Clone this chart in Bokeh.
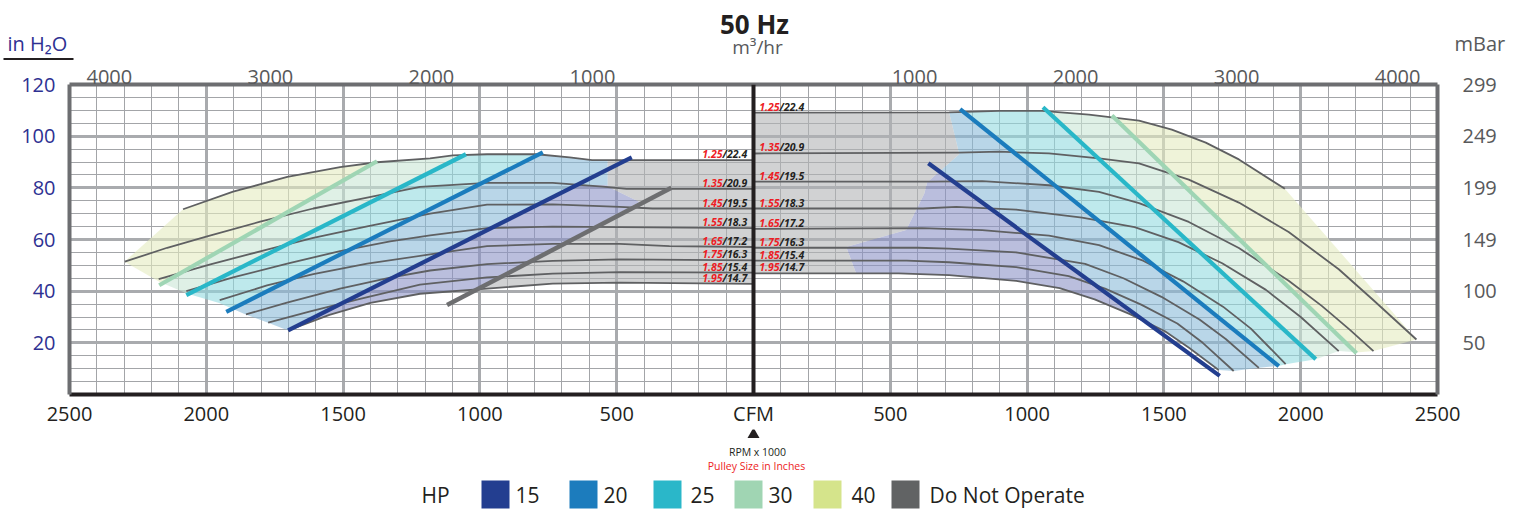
from bokeh.plotting import figure
from bokeh.models import Range1d, LinearAxis, FixedTicker, Span, ColumnDataSource
from bokeh.layouts import column
from bokeh.embed import file_html
from bokeh.resources import INLINE
from bokeh.core.properties import value

# ---------------------------------------------------------------- data
cfm_ticks = [-2500, -2000, -1500, -1000, -500, 0, 500, 1000, 1500, 2000, 2500]
cfm_minor_ticks = list(range(-2500, 2501, 100))
inh2o_ticks = [20, 40, 60, 80, 100, 120]
inh2o_grid_ticks = [0, 20, 40, 60, 80, 100, 120]
inh2o_minor_ticks = list(range(0, 121, 5))
m3h_ticks = [1000, 2000, 3000, 4000]
CFM_PER_M3H = 0.58858
MBAR_PER_INH2O = 2.4909

pulley_in = ["1.25", "1.35", "1.45", "1.55", "1.65", "1.75", "1.85", "1.95"]
rpm_k = ["22.4", "20.9", "19.5", "18.3", "17.2", "16.3", "15.4", "14.7"]

# left-hand fan curves (CFM to the left of centre, in H2O)
left_125_cfm = [0, 590, 672, 792, 974, 1099, 1182, 1376, 1511, 1704, 1902, 2085]
left_125_h = [90.7, 90.7, 91.8, 93.0, 93.0, 92.6, 91.4, 89.9, 88.0, 84.2, 78.5, 71.7]
left_135_cfm = [0, 464, 551, 734, 974, 1219, 1412, 1609, 1803, 1997, 2143, 2298]
left_135_h = [79.6, 79.6, 80.5, 81.9, 81.9, 80.4, 76.2, 72.0, 66.9, 61.2, 56.8, 51.4]
left_145_cfm = [0, 369, 489, 734, 974, 1182, 1412, 1609, 1778, 1985, 2174]
left_145_h = [72.0, 72.0, 72.6, 73.6, 73.5, 70.0, 65.1, 60.6, 56.1, 50.4, 44.7]
left_155_cfm = [0, 489, 734, 974, 1182, 1328, 1511, 1704, 1902, 2073]
left_155_h = [64.4, 64.8, 65.0, 64.4, 61.6, 59.3, 55.5, 50.7, 45.3, 40.0]
left_165_cfm = [0, 307, 489, 734, 974, 1182, 1412, 1609, 1778, 1951]
left_165_h = [57.1, 57.4, 58.3, 58.3, 57.4, 54.2, 50.7, 46.6, 42.2, 36.5]
left_175_cfm = [0, 489, 734, 974, 1182, 1328, 1511, 1705, 1855]
left_175_h = [51.9, 52.3, 51.7, 50.5, 48.0, 45.2, 41.0, 35.6, 31.0]
left_185_cfm = [0, 489, 734, 974, 1219, 1438, 1620, 1774]
left_185_h = [47.2, 47.4, 46.8, 45.3, 42.5, 37.0, 32.2, 27.8]
left_195_cfm = [0, 489, 734, 974, 1219, 1400, 1550, 1701]
left_195_h = [42.8, 43.3, 42.9, 41.0, 39.0, 35.5, 30.8, 24.8]

# right-hand fan curves
right_125_cfm = [0, 715, 898, 1055, 1226, 1409, 1529, 1653, 1774, 1942]
right_125_h = [109.1, 109.2, 109.8, 109.8, 108.3, 106.0, 102.5, 97.5, 91.0, 79.6]
right_135_cfm = [0, 752, 898, 1080, 1263, 1409, 1591, 1774, 1956, 2139, 2266, 2423]
right_135_h = [93.3, 93.6, 94.0, 93.3, 91.4, 89.5, 83.2, 74.3, 62.9, 48.5, 36.5, 21.3]
right_145_cfm = [0, 650, 836, 1080, 1263, 1409, 1591, 1774, 1956, 2077, 2180, 2266]
right_145_h = [82.4, 82.4, 82.6, 81.0, 78.4, 74.1, 66.8, 56.7, 44.0, 34.3, 25.0, 16.8]
right_155_cfm = [0, 620, 741, 960, 1201, 1393, 1553, 1713, 1873, 2000, 2139]
right_155_h = [72.0, 72.0, 72.6, 71.6, 68.5, 64.8, 59.0, 50.8, 40.5, 30.0, 16.8]
right_165_cfm = [0, 617, 836, 1080, 1263, 1424, 1570, 1716, 1818, 1945]
right_165_h = [64.1, 64.4, 63.6, 61.5, 57.8, 51.8, 43.8, 34.0, 25.5, 11.8]
right_175_cfm = [0, 600, 715, 960, 1212, 1352, 1491, 1630, 1726, 1847]
right_175_h = [56.8, 56.8, 56.5, 55.0, 50.6, 45.0, 37.8, 29.0, 21.5, 10.3]
right_185_cfm = [0, 560, 715, 960, 1152, 1285, 1417, 1549, 1642, 1755]
right_185_h = [51.8, 51.8, 51.2, 49.3, 45.8, 41.0, 34.8, 27.5, 20.0, 9.1]
right_195_cfm = [0, 530, 715, 960, 1119, 1247, 1376, 1504, 1593, 1700]
right_195_h = [46.9, 46.9, 46.2, 44.0, 41.2, 36.8, 31.1, 24.5, 18.0, 9.5]

# horsepower limit lines (start, end)
hp15_left_cfm, hp15_left_h = [1701, 445], [24.8, 91.8]
hp20_left_cfm, hp20_left_h = [1927, 770], [32.0, 93.7]
hp25_left_cfm, hp25_left_h = [2073, 1051], [38.5, 93.0]
hp30_left_cfm, hp30_left_h = [2172, 1376], [42.3, 90.3]
dno_left_cfm, dno_left_h = [1120, 300], [34.6, 80.0]
hp15_right_cfm, hp15_right_h = [639, 1704], [89.5, 7.2]
hp20_right_cfm, hp20_right_h = [755, 1920], [110.5, 11.0]
hp25_right_cfm, hp25_right_h = [1058, 2055], [111.2, 13.7]
hp30_right_cfm, hp30_right_h = [1310, 2204], [108.0, 16.0]

# operating envelopes (outline of the shaded areas)
left_zone_cfm = [2085, 1902, 1704, 1511, 1376, 1182, 1099, 974, 792, 672, 590, 533, 533, 416,
                 1013, 1219, 1400, 1550, 1701, 1774, 1854, 1953, 2073, 2175, 2299]
left_zone_h = [71.7, 78.5, 84.2, 88.0, 89.9, 91.4, 92.6, 93.0, 93.0, 91.8, 90.7, 90.7, 80.5, 74.5,
               40.7, 39.0, 35.5, 30.8, 24.8, 27.8, 30.9, 35.4, 39.2, 43.8, 51.4]
left_15hp_zone_top = 81.0
left_dno_cfm = [0, 533, 533, 416, 1013, 974, 734, 489, 0]
left_dno_h = [90.7, 90.7, 80.5, 74.5, 40.7, 41.0, 42.9, 43.3, 42.8]

right_zone_cfm = [715, 898, 1055, 1226, 1409, 1529, 1653, 1774, 1942, 2423, 2266, 2204, 2139, 2055,
                  1945, 1920, 1847, 1755, 1700, 1593, 1504, 1376, 1247, 1119, 960, 715, 530, 376,
                  339, 558, 624, 635, 752]
right_zone_h = [109.2, 109.8, 109.8, 108.3, 106.0, 102.5, 97.5, 91.0, 79.6, 21.3, 16.8, 16.3, 16.8, 13.6,
                11.7, 11.0, 10.4, 9.1, 9.5, 18.0, 24.5, 31.1, 36.8, 41.2, 44.0, 46.2, 46.9, 46.6,
                57.1, 63.7, 77.7, 82.2, 93.0]
right_dno_cfm = [0, 715, 752, 635, 624, 558, 339, 376, 0]
right_dno_h = [109.1, 109.2, 93.0, 82.2, 77.7, 63.7, 57.1, 46.6, 46.9]

legend_title = "HP"
legend_labels = ["15", "20", "25", "30", "40", "Do Not Operate"]
legend_colors = ["#233e90", "#1c7cbd", "#2ab7c9", "#a0d5b3", "#d5e48b", "#616364"]

# ---------------------------------------------------------------- styles / layout
FONT = "Open Sans"
CURVE_COLOR = "#5f6062"
HP_COLORS = {15: "#233e8f", 20: "#1b7cbd", 25: "#29b7c8", 30: "#9fd5b4"}
ZONE_ALPHA = 0.6
ZONE = {"y": "#e4ebc0", "g": "#cae6d5", "c": "#93dadf", "b": "#8abbd9", "l": "#8c93c6", "d": "#b2b4b6"}

W = 1527
TOP_H = 60                 # page rows 0..60 : titles
MAIN_TOP, MAIN_BOT = 60, 429
BOT_H = 510 - MAIN_BOT     # page rows 429..510 : notes + legend
FR_L, FR_R, FR_T, FR_B = 69, 1437, 84, 399  # frame edges in page pixels
X0, X1, Y0, Y1 = -2500, 2500, 0, 120
LEG_SQ_LEFT = [481, 569, 653, 734, 813, 891]     # legend swatch left edges (px)
LEG_TXT_LEFT = [515, 603, 690, 768, 851, 929]    # legend label left edges (px)
LEG_Y, LEG_SQ = 494, 28


def img_x(px):
    return X0 + (px - FR_L) * (X1 - X0) / (FR_R - FR_L)


def top_y(py):             # page row -> y of the top strip
    return TOP_H - py


def bot_y(py):             # page row -> y of the bottom strip (inverted range)
    return py - MAIN_BOT


def set_no_align(fig):
    try:
        fig.frame_align = False
    except Exception:
        pass


# ---------------------------------------------------------------- geometry helpers
def clip_half(poly, a, b, keep):
    def side(p):
        return (b[0] - a[0]) * (p[1] - a[1]) - (b[1] - a[1]) * (p[0] - a[0])
    sk = 1 if side(keep) >= 0 else -1
    out = []
    for i in range(len(poly)):
        p, q = poly[i - 1], poly[i]
        sp, sq = side(p) * sk, side(q) * sk
        if sq >= 0:
            if sp < 0:
                t = sp / (sp - sq)
                out.append((p[0] + t * (q[0] - p[0]), p[1] + t * (q[1] - p[1])))
            out.append(q)
        elif sp >= 0:
            t = sp / (sp - sq)
            out.append((p[0] + t * (q[0] - p[0]), p[1] + t * (q[1] - p[1])))
    return out


def seg(cfm, h):
    return (cfm[0], h[0]), (cfm[1], h[1])


CENTRE, OUTER = (0, 60), (3000, 60)
zones = []

env_l = list(zip(left_zone_cfm, left_zone_h))
l30, l25, l20, l15 = (seg(hp30_left_cfm, hp30_left_h), seg(hp25_left_cfm, hp25_left_h),
                      seg(hp20_left_cfm, hp20_left_h), seg(hp15_left_cfm, hp15_left_h))
top_line = ((0, left_15hp_zone_top), (1, left_15hp_zone_top))
zones.append((clip_half(env_l, *l30, OUTER), ZONE["y"], -1))
zones.append((clip_half(clip_half(env_l, *l30, CENTRE), *l25, OUTER), ZONE["g"], -1))
zones.append((clip_half(clip_half(env_l, *l25, CENTRE), *l20, OUTER), ZONE["c"], -1))
zones.append((clip_half(clip_half(env_l, *l20, CENTRE), *l15, OUTER), ZONE["b"], -1))
zones.append((clip_half(clip_half(env_l, *l15, CENTRE), *top_line, (0, 200)), ZONE["b"], -1))
zones.append((clip_half(clip_half(env_l, *l15, CENTRE), *top_line, (0, 0)), ZONE["l"], -1))
zones.append((list(zip(left_dno_cfm, left_dno_h)), ZONE["d"], -1))

env_r = list(zip(right_zone_cfm, right_zone_h))
r30, r25, r20, r15 = (seg(hp30_right_cfm, hp30_right_h), seg(hp25_right_cfm, hp25_right_h),
                      seg(hp20_right_cfm, hp20_right_h), seg(hp15_right_cfm, hp15_right_h))
zones.append((clip_half(env_r, *r30, OUTER), ZONE["y"], 1))
zones.append((clip_half(clip_half(env_r, *r30, CENTRE), *r25, OUTER), ZONE["g"], 1))
zones.append((clip_half(clip_half(env_r, *r25, CENTRE), *r20, OUTER), ZONE["c"], 1))
zones.append((clip_half(clip_half(env_r, *r20, CENTRE), *r15, OUTER), ZONE["b"], 1))
zones.append((clip_half(env_r, *r15, CENTRE), ZONE["l"], 1))
zones.append((list(zip(right_dno_cfm, right_dno_h)), ZONE["d"], 1))

# ---------------------------------------------------------------- top strip (title, units)
TXT = dict(text_baseline="middle", text_font=value(FONT))
top = figure(width=W, height=TOP_H, x_range=Range1d(img_x(0), img_x(W)),
             y_range=Range1d(0, TOP_H), x_axis_location=None, y_axis_location=None,
             toolbar_location=None, output_backend="svg", min_border=0)
set_no_align(top)
top.outline_line_color = None
top.grid.visible = False
top.text(x=[img_x(754)], y=[top_y(23)], text=["50 Hz"], text_align="center", text_font_style="bold",
         text_font_size="26px", text_color="#231f20", **TXT)
top.text(x=[img_x(757)], y=[top_y(46.8)], text=["m³/hr"], text_align="center",
         text_font_size="19px", text_color="#58595b", **TXT)
top.text(x=[img_x(7)], y=[top_y(43)], text=["in H₂O"], text_align="left",
         text_font_size="20px", text_color="#2e3192", **TXT)
top.segment(x0=[img_x(3)], x1=[img_x(73)], y0=[top_y(58.7)], y1=[top_y(58.7)], line_width=2.3,
            line_color="#231f20")
top.text(x=[img_x(1454)], y=[top_y(43)], text=["mBar"], text_align="left",
         text_font_size="20px", text_color="#58595b", **TXT)

# ---------------------------------------------------------------- main chart
p = figure(width=W, height=MAIN_BOT - MAIN_TOP, x_range=Range1d(X0, X1), y_range=Range1d(Y0, Y1),
           toolbar_location=None, output_backend="svg",
           min_border_left=FR_L, min_border_right=W - FR_R,
           min_border_top=FR_T - MAIN_TOP, min_border_bottom=MAIN_BOT - FR_B)
set_no_align(p)
p.outline_line_color = None
p.background_fill_color = "white"

GRID_MAJOR, GRID_MINOR = "#a9abae", "#a3a5a8"
xt = FixedTicker(ticks=cfm_ticks, minor_ticks=cfm_minor_ticks)
yt = FixedTicker(ticks=inh2o_grid_ticks, minor_ticks=inh2o_minor_ticks)
for g, t in ((p.xgrid[0], xt), (p.ygrid[0], yt)):
    g.ticker = t
    g.grid_line_color = GRID_MAJOR
    g.grid_line_width = 3
    g.minor_grid_line_color = GRID_MINOR
    g.minor_grid_line_width = 1


def style_axis(ax, color, standoff, line_color, line_w=4):
    ax.major_tick_line_color = None
    ax.minor_tick_line_color = None
    ax.major_tick_out = 0
    ax.major_tick_in = 0
    ax.minor_tick_out = 0
    ax.axis_line_color = line_color
    ax.axis_line_width = line_w
    ax.major_label_standoff = standoff
    ax.major_label_text_font = FONT
    ax.major_label_text_font_size = "20px"
    ax.major_label_text_color = color


xb = p.xaxis[0]
xb.ticker = FixedTicker(ticks=cfm_ticks)
xb.major_label_overrides = {t: ("CFM" if t == 0 else str(abs(t))) for t in cfm_ticks}
style_axis(xb, "#231f20", 5, "#231f20")

yl = p.yaxis[0]
yl.ticker = FixedTicker(ticks=inh2o_ticks)
style_axis(yl, "#2e3192", 14, "#6d6e71")

yr = LinearAxis(ticker=FixedTicker(ticks=inh2o_ticks),
                major_label_overrides={t: str(round(t * MBAR_PER_INH2O)) for t in inh2o_ticks})
style_axis(yr, "#58595b", 25, "#6d6e71")
p.add_layout(yr, "right")

top_pos = []
top_lab = {}
for m in m3h_ticks:
    for s in (-1, 1):
        v = round(s * m * CFM_PER_M3H, 1)
        top_pos.append(v)
        top_lab[v] = str(m)
xa = LinearAxis(ticker=FixedTicker(ticks=sorted(top_pos)), major_label_overrides=top_lab)
style_axis(xa, "#58595b", 1, "#6d6e71")
p.add_layout(xa, "above")

# shaded zones
zs = ColumnDataSource(dict(
    xs=[[s * c for c, _ in poly] for poly, _, s in zones if poly],
    ys=[[h for _, h in poly] for poly, _, s in zones if poly],
    color=[col for poly, col, _ in zones if poly]))
p.patches("xs", "ys", source=zs, fill_color="color", fill_alpha=ZONE_ALPHA, line_color=None)

# fan curves
left_curves = [(left_125_cfm, left_125_h), (left_135_cfm, left_135_h), (left_145_cfm, left_145_h),
               (left_155_cfm, left_155_h), (left_165_cfm, left_165_h), (left_175_cfm, left_175_h),
               (left_185_cfm, left_185_h), (left_195_cfm, left_195_h)]
right_curves = [(right_125_cfm, right_125_h), (right_135_cfm, right_135_h), (right_145_cfm, right_145_h),
                (right_155_cfm, right_155_h), (right_165_cfm, right_165_h), (right_175_cfm, right_175_h),
                (right_185_cfm, right_185_h), (right_195_cfm, right_195_h)]
p.multi_line(xs=[[-c for c in cf] for cf, _ in left_curves] + [list(cf) for cf, _ in right_curves],
             ys=[list(h) for _, h in left_curves] + [list(h) for _, h in right_curves],
             line_color=CURVE_COLOR, line_width=1.8, line_join="round")

# HP lines
for hp, cf, hh, s in ((15, hp15_left_cfm, hp15_left_h, -1), (20, hp20_left_cfm, hp20_left_h, -1),
                      (25, hp25_left_cfm, hp25_left_h, -1), (30, hp30_left_cfm, hp30_left_h, -1),
                      (15, hp15_right_cfm, hp15_right_h, 1), (20, hp20_right_cfm, hp20_right_h, 1),
                      (25, hp25_right_cfm, hp25_right_h, 1), (30, hp30_right_cfm, hp30_right_h, 1)):
    p.line([s * c for c in cf], hh, line_color=HP_COLORS[hp], line_width=4.2)
p.line([-c for c in dno_left_cfm], dno_left_h, line_color="#6d6e70", line_width=4.5)

p.add_layout(Span(location=0, dimension="height", line_color="#231f20", line_width=4))

# pulley / rpm labels at the centre line (text sits just above each curve)
LAB = dict(text_font=value(FONT), text_font_style="bold italic", text_font_size="10.5px",
           text_baseline="middle", y_offset=-6)
left_y = [h[0] for _, h in left_curves]
right_y = [h[0] for _, h in right_curves]
p.text(x=[0] * 8, y=left_y, text=pulley_in, text_align="right", x_offset=-31, text_color="#ed1c24", **LAB)
p.text(x=[0] * 8, y=left_y, text=["/" + r for r in rpm_k], text_align="left", x_offset=-31,
       text_color="#231f20", **LAB)
p.text(x=[0] * 8, y=right_y, text=pulley_in, text_align="right", x_offset=26, text_color="#ed1c24", **LAB)
p.text(x=[0] * 8, y=right_y, text=["/" + r for r in rpm_k], text_align="left", x_offset=26,
       text_color="#231f20", **LAB)

# ---------------------------------------------------------------- bottom strip (notes, legend)
bot = figure(width=W, height=BOT_H, x_range=Range1d(img_x(0), img_x(W)),
             y_range=Range1d(BOT_H, 0), x_axis_location=None, y_axis_location=None,
             toolbar_location=None, output_backend="svg", min_border=0)
set_no_align(bot)
bot.outline_line_color = None
bot.grid.visible = False
bot.scatter(x=[0], y=[bot_y(434)], marker="triangle", size=12, fill_color="#231f20", line_color=None)
bot.text(x=[img_x(757)], y=[bot_y(451)], text=["RPM x 1000"], text_align="center",
         text_font_size="10.5px", text_color="#231f20", **TXT)
bot.text(x=[img_x(756)], y=[bot_y(465)], text=["Pulley Size in Inches"], text_align="center",
         text_font_size="10.5px", text_color="#ed1c24", **TXT)
bot.text(x=[img_x(421)], y=[bot_y(LEG_Y)], text=[legend_title], text_align="left",
         text_font_size="21px", text_color="#231f20", **TXT)
bot.rect(x=[img_x(v + LEG_SQ / 2) for v in LEG_SQ_LEFT], y=[bot_y(LEG_Y)] * len(legend_colors),
         width=LEG_SQ, height=LEG_SQ, width_units="screen", height_units="screen",
         fill_color=legend_colors, line_color=None)
bot.text(x=[img_x(v) for v in LEG_TXT_LEFT], y=[bot_y(LEG_Y)] * len(legend_labels), text=legend_labels,
         text_align="left", text_font_size="21px", text_color="#231f20", **TXT)

layout = column(top, p, bot, spacing=0)
open("out.html", "w").write(file_html(layout, INLINE))
